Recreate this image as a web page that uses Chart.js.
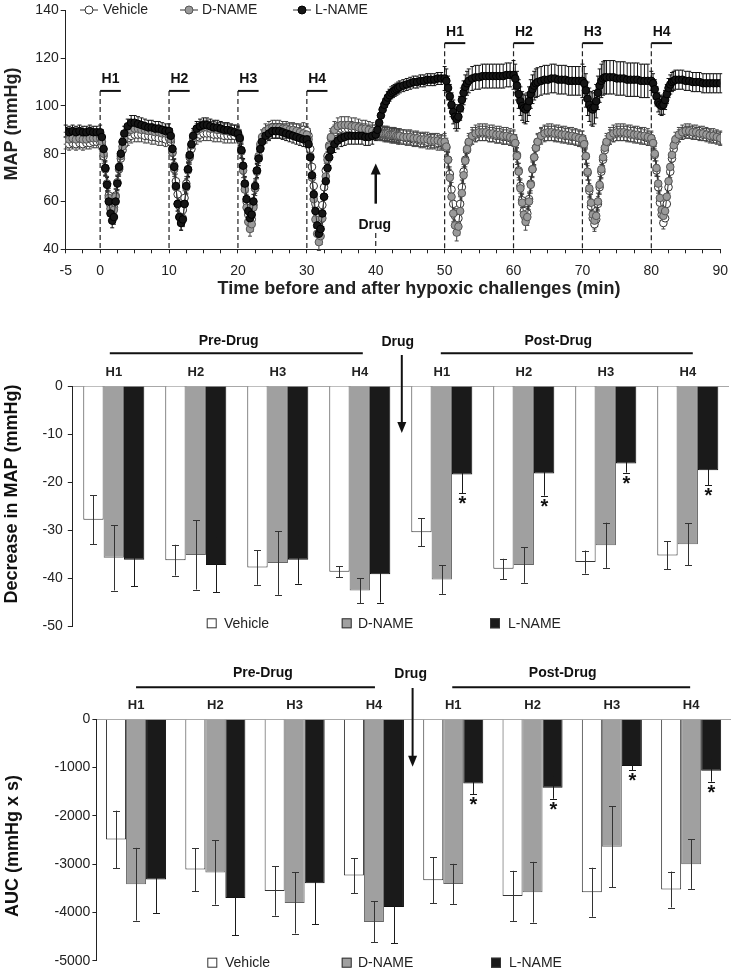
<!DOCTYPE html>
<html>
<head>
<meta charset="utf-8">
<script src="https://cdn.jsdelivr.net/npm/chart.js@4.4.1/dist/chart.umd.min.js"></script>
<style>
  body { margin: 0; background: #fff; width: 737px; height: 973px; position: relative; overflow: hidden; }
  canvas { position: absolute; left: 0; }
</style>
</head>
<body>
<canvas id="mapTrace" width="737" height="300" style="top:0"></canvas>
<canvas id="mapBars" width="737" height="340" style="top:300px"></canvas>
<canvas id="aucBars" width="737" height="333" style="top:640px"></canvas>
<script>
// ---------- top panel: MAP time course ----------
const preTimes = [-5, -4.5, -4, -3.5, -3, -2.5, -2, -1.5, -1, -0.5];
const segmentStarts = [0, 10, 20, 30, 40, 50, 60, 70, 80];
const segmentOffsets = [0, 0.25, 0.5, 0.75, 1, 1.25, 1.5, 1.75, 2, 2.25, 2.5, 2.75, 3, 3.25, 3.5,
                        4, 4.5, 5, 5.5, 6, 6.5, 7, 7.5, 8, 8.5, 9, 9.5];
const endTime = 90;
const traceTimes = preTimes.concat(...segmentStarts.map(s => segmentOffsets.map(o => s + o)), [endTime]);

const vehicleTrace = [
  84.5, 84, 84.5, 84, 84.5, 84, 84.5, 84.5, 85, 85,
  85, 83.5, 79, 73.5, 67.5, 62.5, 58.5, 56, 57.5, 62.5, 68, 73.5, 78, 81.5, 84,
  86.5, 87.5, 88, 88, 88, 87.5, 87.5, 87, 87, 86.5, 86.5, 86,
  86.5, 85, 80.5, 75, 68.5, 63, 58, 55, 56.5, 61.5, 67.5, 73.5, 78.5, 82, 85,
  87, 88, 88.5, 88.5, 88.5, 88, 88, 88, 87.5, 87.5, 87.5, 87.5,
  88, 86, 81, 74.5, 67, 60, 54.5, 51, 52.5, 58.5, 65.5, 72.5, 78, 82.5, 85.5,
  88, 89, 89.5, 89.5, 89.5, 89.5, 89.5, 89.5, 89.5, 89.5, 89.5, 90,
  89.5, 87.5, 82, 74.5, 66.5, 59, 53.5, 50.5, 52.5, 58.5, 66, 73, 79, 83.5, 86.5,
  89, 90, 90.5, 90.5, 90.5, 90.5, 90, 90, 89.5, 89.5, 89, 89,
  89, 89, 88.5, 88.5, 88.5, 88, 88, 88, 88, 87.5, 87.5, 87.5, 87.5, 87, 87,
  87, 86.5, 86.5, 86, 86, 85.5, 85.5, 85, 85, 85, 84.5, 84.5,
  84.5, 82.5, 77.5, 71.5, 65, 59, 54, 51, 53, 59, 66, 72.5, 77.5, 81.5, 84.5,
  87, 88, 88.5, 88.5, 88.5, 88, 88, 87.5, 87.5, 87, 87, 86.5,
  86.5, 84.5, 79.5, 73, 66.5, 60.5, 56, 53, 55, 61, 67.5, 73.5, 78.5, 82.5, 85,
  87.5, 88.5, 88.5, 88.5, 88.5, 88, 88, 87.5, 87.5, 87, 87, 86.5,
  86.5, 84.5, 79, 72, 64.5, 58, 53, 50.5, 52.5, 59, 66, 72.5, 77.5, 81.5, 84.5,
  87, 88, 88.5, 88.5, 88.5, 88.5, 88, 88, 87.5, 87.5, 87, 86.5,
  86.5, 84.5, 79.5, 73, 66, 59.5, 54.5, 51, 53, 59, 66, 72.5, 78, 82, 85,
  87.5, 88.5, 89, 89, 89, 88.5, 88.5, 88, 88, 87.5, 87, 87,
  86.5
];
const dnameTrace = [
  86.5, 86, 86.5, 86, 86.5, 86, 86, 86.5, 86.5, 86.5,
  86.5, 85, 80, 74, 67.5, 61.5, 57, 55, 56.5, 62, 68, 74, 79, 83, 86,
  89, 90, 90.5, 90.5, 90, 90, 89.5, 89.5, 89, 89, 88.5, 88.5,
  88, 86, 80.5, 73.5, 66, 59, 53.5, 51, 53, 59, 66, 73, 79, 83.5, 86.5,
  89.5, 90.5, 91, 91, 90.5, 90.5, 90, 90, 89.5, 89.5, 89, 89,
  89, 87, 81, 73, 65, 57.5, 51.5, 48.5, 50.5, 57.5, 65.5, 73, 79, 84, 87,
  89.5, 90.5, 91, 91, 91, 90.5, 90.5, 90, 90, 89.5, 89, 88.5,
  88, 86, 79, 70, 61, 52.5, 46.5, 43, 45.5, 53, 62, 70.5, 77.5, 83, 87,
  90, 91.5, 92, 92, 92, 91.5, 91.5, 91, 90.5, 90.5, 90, 89.5,
  89, 89, 89, 89, 88.5, 88.5, 88.5, 88.5, 88, 88, 88, 88, 87.5, 87.5, 87.5,
  87, 87, 87, 86.5, 86.5, 86, 86, 86, 85.5, 85.5, 85.5, 85,
  85, 83, 77.5, 70, 62, 55, 50, 47, 49.5, 56, 63.5, 71, 77, 82, 85,
  87.5, 88.5, 89, 89, 89, 88.5, 88.5, 88, 88, 87.5, 87.5, 87,
  86.5, 84.5, 79, 72.5, 65.5, 59.5, 54.5, 51.5, 53.5, 60, 67, 73.5, 78.5, 82.5, 85,
  87.5, 88.5, 89, 89, 88.5, 88.5, 88, 88, 87.5, 87.5, 87, 86.5,
  86, 84, 79, 72.5, 65.5, 59.5, 54.5, 52, 54, 60, 67, 73.5, 78.5, 82.5, 85,
  87.5, 88.5, 89, 89, 89, 88.5, 88.5, 88, 88, 87.5, 87.5, 87,
  86.5, 84.5, 80, 74, 67.5, 61.5, 56.5, 54, 56, 62, 68.5, 74.5, 79.5, 83.5, 86,
  88, 89, 89.5, 89.5, 89, 89, 88.5, 88.5, 88, 87.5, 87.5, 87,
  86.5
];
const lnameTrace = [
  89.5, 89, 89.5, 89, 89.5, 89, 89, 89.5, 89, 89,
  89, 87, 82, 74, 67, 60, 55, 52, 53.5, 60, 67.5, 74.5, 80, 85, 88.5,
  91.5, 93, 93, 92.5, 92, 91.5, 91, 91, 90.5, 90.5, 90, 89.5,
  89.5, 87.5, 82, 74.5, 66.5, 59, 53.5, 51, 52.5, 59, 66.5, 73.5, 79.5, 84, 87.5,
  90.5, 91.5, 92, 92, 91.5, 91, 91, 90.5, 90, 90, 89.5, 89,
  88.5, 86.5, 81.5, 75, 67.5, 61, 56, 53, 54.5, 60, 66.5, 73, 78, 82, 85,
  87.5, 88.5, 89.5, 89.5, 89.5, 89, 88.5, 88, 87.5, 87, 86.5, 86,
  86, 84, 78.5, 71, 63, 56, 50, 46.5, 48.5, 55, 62, 68.5, 74, 78.5, 81.5,
  84, 85.5, 86.5, 87, 87.5, 87.5, 87.5, 87.5, 87.5, 87, 87, 87.5,
  88, 90, 93, 96, 98.5, 100.5, 102, 103.5, 104.5, 105.5, 106, 106.5, 107, 107.5, 108,
  108.5, 109, 109.5, 110, 110, 110.5, 110.5, 111, 111, 111, 111.5, 111.5,
  111.5, 110.5, 107.5, 104, 100.5, 97.5, 95.5, 94.5, 95.5, 99, 102.5, 105.5, 108, 109.5, 110.5,
  111.5, 112, 112, 112.5, 112.5, 112.5, 112.5, 112.5, 112.5, 112.5, 113, 113,
  113, 111.5, 108.5, 105, 102, 100, 99, 98.5, 99.5, 102, 105, 107, 108.5, 109.5, 110,
  110.5, 111, 111, 111.5, 111.5, 111, 111, 111, 110.5, 110.5, 110.5, 110.5,
  110.5, 109.5, 106.5, 103, 100.5, 99, 98.5, 99.5, 102, 105.5, 108.5, 110.5, 111.5, 112, 112,
  112, 112, 111.5, 111.5, 111.5, 111, 111, 111, 111, 110.5, 110.5, 110.5,
  110.5, 109.5, 107, 104, 101.5, 100.5, 100, 100.5, 102.5, 105, 107.5, 109, 110, 110.5, 111,
  111, 111, 110.5, 110.5, 110, 110, 110, 109.5, 109.5, 109.5, 109.5, 109.5,
  109.5
];
// SEM per stretch: baseline, then the 10-min blocks starting at 0..80
const vehicleSem = [2.5, 3, 3, 3, 3, 3, 3, 3, 3, 2.5];
const dnameSem = [2.5, 3, 3, 3, 3.5, 3, 3.5, 3.5, 3.5, 3];
const lnameSem = [2.5, 3, 3, 3, 3.5, 2.5, 5, 6, 7, 4];

const hypoxiaStarts = [0, 10, 20, 30, 50, 60, 70, 80];
const hypoxiaNames = ['H1', 'H2', 'H3', 'H4', 'H1', 'H2', 'H3', 'H4'];
const hypoxiaMinutes = 3;
const drugTime = 40;

// ---------- bar panels ----------
const groupNames = ['H1', 'H2', 'H3', 'H4', 'H1', 'H2', 'H3', 'H4'];
const vehicleDrop = [-27.8, -36.2, -37.7, -38.6, -30.4, -38.0, -36.6, -35.2];
const vehicleDropErr = [5.1, 3.2, 3.6, 1.1, 2.9, 2.1, 2.4, 2.9];
const dnameDrop = [-35.7, -35.1, -36.8, -42.5, -40.2, -37.2, -33.1, -32.9];
const dnameDropErr = [6.8, 7.2, 6.6, 2.6, 3.0, 3.7, 4.7, 4.4];
const lnameDrop = [-36.1, -37.2, -36.1, -39.1, -18.4, -18.2, -16.1, -17.5];
const lnameDropErr = [5.5, 5.7, 5.0, 5.9, 3.9, 4.6, 1.9, 3.1];

const vehicleAuc = [-2490, -3112, -3555, -3237, -3333, -3658, -3582, -3527];
const vehicleAucErr = [598, 446, 512, 363, 477, 519, 508, 373];
const dnameAuc = [-3416, -3174, -3804, -4198, -3409, -3582, -2642, -3001];
const dnameAucErr = [753, 664, 633, 425, 415, 629, 837, 512];
const lnameAuc = [-3320, -3700, -3396, -3887, -1328, -1418, -968, -1065];
const lnameAucErr = [691, 774, 850, 747, 228, 228, 83, 228];
const lnameSignificant = [false, false, false, false, true, true, true, true];

const FONT = '"Liberation Sans", Arial, Helvetica, sans-serif';
Chart.defaults.font.family = FONT;
Chart.defaults.color = '#222';

function segmentOf(i) {
    if (i < preTimes.length) return 0;
    if (i >= traceTimes.length - 1) return segmentStarts.length;
    return 1 + Math.floor((i - preTimes.length) / segmentOffsets.length);
}

function toPoints(values) {
    return traceTimes.map((t, i) => ({ x: t, y: values[i] }));
}

const traceDecor = {
    id: 'traceDecor',
    beforeDatasetsDraw(chart) {
        const { ctx, chartArea, scales: { x, y } } = chart;
        ctx.save();
        // dashed onset lines
        ctx.strokeStyle = '#222';
        ctx.lineWidth = 1.2;
        ctx.setLineDash([5, 3]);
        hypoxiaStarts.forEach((t, i) => {
            const px = x.getPixelForValue(t);
            const top = y.getPixelForValue(i < 4 ? 106.3 : 126.3);
            ctx.beginPath();
            ctx.moveTo(px, top);
            ctx.lineTo(px, chartArea.bottom);
            ctx.stroke();
        });
        const dx = x.getPixelForValue(drugTime);
        ctx.beginPath();
        ctx.moveTo(dx, y.getPixelForValue(46.8));
        ctx.lineTo(dx, chartArea.bottom);
        ctx.stroke();
        ctx.setLineDash([]);

        // SEM bars
        chart.data.datasets.forEach((ds, di) => {
            const meta = chart.getDatasetMeta(di);
            ctx.strokeStyle = ds.errorColor;
            ctx.lineWidth = 1;
            meta.data.forEach((pt, i) => {
                const v = ds.data[i].y;
                const e = ds.sem[segmentOf(i)];
                const y1 = y.getPixelForValue(v + e);
                const y2 = y.getPixelForValue(v - e);
                ctx.beginPath();
                ctx.moveTo(pt.x, y1); ctx.lineTo(pt.x, y2);
                ctx.moveTo(pt.x - 2, y1); ctx.lineTo(pt.x + 2, y1);
                ctx.moveTo(pt.x - 2, y2); ctx.lineTo(pt.x + 2, y2);
                ctx.stroke();
            });
        });
        ctx.restore();
    },
    afterDatasetsDraw(chart) {
        const { ctx, scales: { x, y } } = chart;
        ctx.save();
        ctx.fillStyle = '#111';
        ctx.strokeStyle = '#111';
        ctx.textAlign = 'center';
        ctx.textBaseline = 'middle';
        ctx.font = 'bold 14px ' + FONT;
        hypoxiaStarts.forEach((t, i) => {
            const x1 = x.getPixelForValue(t);
            const x2 = x.getPixelForValue(t + hypoxiaMinutes);
            const by = y.getPixelForValue(i < 4 ? 106.3 : 126.3);
            ctx.lineWidth = 2;
            ctx.beginPath();
            ctx.moveTo(x1, by); ctx.lineTo(x2, by);
            ctx.stroke();
            ctx.fillText(hypoxiaNames[i], (x1 + x2) / 2, y.getPixelForValue(i < 4 ? 111.3 : 130.8));
        });

        // drug arrow
        const dx = x.getPixelForValue(drugTime);
        const aTop = y.getPixelForValue(75.9);
        const aBot = y.getPixelForValue(59.1);
        ctx.lineWidth = 2.5;
        ctx.beginPath();
        ctx.moveTo(dx, aBot); ctx.lineTo(dx, aTop + 6);
        ctx.stroke();
        ctx.beginPath();
        ctx.moveTo(dx, aTop); ctx.lineTo(dx - 5, aTop + 11); ctx.lineTo(dx + 5, aTop + 11);
        ctx.closePath(); ctx.fill();
        ctx.fillText('Drug', dx - 1, y.getPixelForValue(50.1));

        // legend
        const items = [
            { cx: 89, tx: 103, label: 'Vehicle', fill: '#fff', stroke: '#333' },
            { cx: 189, tx: 202, label: 'D-NAME', fill: '#9a9a9a', stroke: '#555' },
            { cx: 302, tx: 315, label: 'L-NAME', fill: '#151515', stroke: '#000' }
        ];
        ctx.font = '14px ' + FONT;
        ctx.textAlign = 'left';
        items.forEach(it => {
            ctx.strokeStyle = '#333';
            ctx.lineWidth = 1;
            ctx.beginPath();
            ctx.moveTo(it.cx - 9, 10); ctx.lineTo(it.cx + 9, 10);
            ctx.stroke();
            ctx.beginPath();
            ctx.arc(it.cx, 10, 4, 0, Math.PI * 2);
            ctx.fillStyle = it.fill; ctx.fill();
            ctx.strokeStyle = it.stroke; ctx.stroke();
            ctx.fillStyle = '#222';
            ctx.fillText(it.label, it.tx, 10);
        });

        // axis titles
        ctx.font = 'bold 18px ' + FONT;
        ctx.textAlign = 'center';
        ctx.fillText('Time before and after hypoxic challenges (min)', 419, 289);
        ctx.translate(12, 124);
        ctx.rotate(-Math.PI / 2);
        ctx.fillText('MAP (mmHg)', 0, 0);
        ctx.restore();
    }
};

function traceSet(label, values, sem, fill, stroke, errColor, order) {
    return {
        label: label,
        data: toPoints(values),
        sem: sem,
        errorColor: errColor,
        showLine: true,
        borderColor: '#333',
        borderWidth: 1,
        pointRadius: 3.8,
        pointBackgroundColor: fill,
        pointBorderColor: stroke,
        pointBorderWidth: 1,
        order: order
    };
}

new Chart(document.getElementById('mapTrace'), {
    type: 'scatter',
    data: {
        datasets: [
            traceSet('Vehicle', vehicleTrace, vehicleSem, '#fff', '#333', '#444', 3),
            traceSet('D-NAME', dnameTrace, dnameSem, '#9a9a9a', '#555', '#444', 2),
            traceSet('L-NAME', lnameTrace, lnameSem, '#151515', '#000', '#111', 1)
        ]
    },
    options: {
        responsive: false,
        animation: false,
        layout: { padding: { top: 6, right: 11.3, left: 0, bottom: 0 } },
        plugins: { legend: { display: false }, tooltip: { enabled: false } },
        scales: {
            x: {
                type: 'linear', min: -5, max: 90,
                afterFit(s) { s.height = 50.7; },
                ticks: {
                    stepSize: 2.5, autoSkip: false, maxRotation: 0, padding: 9,
                    font: { size: 14 },
                    callback: v => (v === -5 || v % 10 === 0) ? String(v) : ''
                },
                grid: { drawOnChartArea: false, tickLength: 4, color: '#222' },
                border: { color: '#222' }
            },
            y: {
                min: 40, max: 140,
                afterFit(s) { s.width = 65.7; },
                ticks: { stepSize: 20, padding: 2, font: { size: 14 } },
                grid: { drawOnChartArea: false, tickLength: 5, color: '#222' },
                border: { color: '#222' }
            }
        }
    },
    plugins: [traceDecor]
});

// ---------- bar charts ----------
function barDecor(cfg) {
    return {
        id: 'barDecor',
        afterDatasetsDraw(chart) {
            const { ctx, chartArea, scales: { x, y } } = chart;
            ctx.save();
            // error bars and stars
            chart.data.datasets.forEach((ds, di) => {
                const meta = chart.getDatasetMeta(di);
                ctx.strokeStyle = ds.errorColor;
                ctx.lineWidth = 1;
                meta.data.forEach((bar, i) => {
                    const v = ds.data[i];
                    const e = ds.errorBars[i];
                    const cx = Math.round(bar.x) + 0.5;
                    const y1 = y.getPixelForValue(v + e);
                    const y2 = y.getPixelForValue(v - e);
                    ctx.beginPath();
                    ctx.moveTo(cx, y1); ctx.lineTo(cx, y2);
                    ctx.moveTo(cx - 3.5, Math.round(y1) + 0.5); ctx.lineTo(cx + 3.5, Math.round(y1) + 0.5);
                    ctx.moveTo(cx - 3.5, Math.round(y2) + 0.5); ctx.lineTo(cx + 3.5, Math.round(y2) + 0.5);
                    ctx.stroke();
                    if (ds.stars && ds.stars[i]) {
                        ctx.fillStyle = '#111';
                        ctx.font = 'bold 20px ' + FONT;
                        ctx.textAlign = 'center';
                        ctx.textBaseline = 'top';
                        ctx.fillText('*', cx, y2 + 1.5);
                    }
                });
            });

            const c = i => x.getPixelForValue(i);
            const top = chartArea.top - cfg.areaTop;
            ctx.fillStyle = '#111';
            ctx.strokeStyle = '#111';
            ctx.textBaseline = 'middle';
            ctx.textAlign = 'center';
            ctx.font = 'bold 14px ' + FONT;
            // Pre-Drug / Post-Drug brackets
            ctx.lineWidth = 2;
            ctx.beginPath();
            ctx.moveTo(c(0) + cfg.preLine[0], top + cfg.lineY); ctx.lineTo(c(3) + cfg.preLine[1], top + cfg.lineY);
            ctx.moveTo(c(4) + cfg.postLine[0], top + cfg.lineY); ctx.lineTo(c(7) + cfg.postLine[1], top + cfg.lineY);
            ctx.stroke();
            ctx.fillText('Pre-Drug', c(0) + (c(1) - c(0)) * cfg.preText, top + cfg.textY);
            ctx.fillText('Post-Drug', c(0) + (c(1) - c(0)) * cfg.postText, top + cfg.textY);

            // drug arrow between H4 and H1
            const dx = (c(3) + c(4)) / 2;
            ctx.fillText('Drug', dx - 3, top + cfg.drugTextY);
            ctx.beginPath();
            ctx.moveTo(dx + cfg.arrowShift, top + cfg.arrowTop);
            ctx.lineTo(dx + cfg.arrowShift, top + cfg.arrowBottom - 8);
            ctx.stroke();
            ctx.beginPath();
            ctx.moveTo(dx + cfg.arrowShift, top + cfg.arrowBottom);
            ctx.lineTo(dx + cfg.arrowShift - 4.5, top + cfg.arrowBottom - 11);
            ctx.lineTo(dx + cfg.arrowShift + 4.5, top + cfg.arrowBottom - 11);
            ctx.closePath();
            ctx.fill();

            // legend
            ctx.font = '14px ' + FONT;
            ctx.textAlign = 'left';
            ctx.lineWidth = 1;
            chart.data.datasets.forEach((ds, i) => {
                const bx = cfg.legendBoxX[i];
                const ly = top + cfg.legendY;
                ctx.fillStyle = ds.backgroundColor;
                ctx.fillRect(bx, ly - 5, 10, 10);
                ctx.strokeStyle = '#333';
                ctx.strokeRect(bx + 0.5, ly - 4.5, 9, 9);
                ctx.fillStyle = '#222';
                ctx.fillText(ds.label, cfg.legendTextX[i], ly + 0.5);
            });

            // y title
            ctx.font = 'bold 18px ' + FONT;
            ctx.textAlign = 'center';
            ctx.fillStyle = '#111';
            ctx.translate(cfg.titleX, top + cfg.titleY);
            ctx.rotate(-Math.PI / 2);
            ctx.fillText(cfg.title, 0, 0);
            ctx.restore();
        }
    };
}

function barSet(label, values, errors, fill, border, errColor, stars) {
    return {
        label: label,
        data: values,
        errorBars: errors,
        errorColor: errColor,
        stars: stars,
        backgroundColor: fill,
        borderColor: border,
        borderWidth: 1
    };
}

function barOptions(o) {
    return {
        responsive: false,
        animation: false,
        datasets: { bar: { categoryPercentage: o.catPct, barPercentage: 1 } },
        layout: { padding: { top: o.padTop, right: o.padRight, left: 0, bottom: o.padBottom } },
        plugins: { legend: { display: false }, tooltip: { enabled: false } },
        scales: {
            x: {
                position: 'top',
                afterFit(s) { s.height = 30; },
                grid: { display: false, drawTicks: false },
                border: { color: '#a8a8a8', width: 1 },
                ticks: { padding: o.labelPad, font: { size: 13, weight: 'bold' }, color: '#222' }
            },
            y: {
                min: o.min, max: 0,
                afterFit(s) { s.width = o.axisWidth; },
                ticks: { stepSize: o.step, padding: o.tickPad, font: { size: 14 }, callback: v => String(v) },
                grid: { drawOnChartArea: false, tickLength: o.tickLen, color: '#222' },
                border: { color: '#222' }
            }
        }
    };
}

new Chart(document.getElementById('mapBars'), {
    type: 'bar',
    data: {
        labels: groupNames,
        datasets: [
            barSet('Vehicle', vehicleDrop, vehicleDropErr, '#ffffff', '#333', '#333', null),
            barSet('D-NAME', dnameDrop, dnameDropErr, '#a0a0a0', '#666', '#333', null),
            barSet('L-NAME', lnameDrop, lnameDropErr, '#1a1a1a', '#111', '#1a1a1a', lnameSignificant)
        ]
    },
    options: barOptions({ catPct: 0.744, padTop: 56, padRight: 8.2, padBottom: 13.3, labelPad: 5.5,
                          min: -50, step: 10, axisWidth: 72.8, tickPad: 5, tickLen: 5 }),
    plugins: [barDecor({
        areaTop: 86, textY: 40.7, lineY: 53.3, preText: 1.4, postText: 5.42,
        preLine: [-4, 3], postLine: [-1, 5],
        drugTextY: 41.7, arrowTop: 55, arrowBottom: 133, arrowShift: 1,
        legendY: 323.3, legendBoxX: [206.7, 341.7, 490], legendTextX: [224, 358, 508],
        title: 'Decrease in MAP (mmHg)', titleX: 12, titleY: 194
    })]
});

new Chart(document.getElementById('aucBars'), {
    type: 'bar',
    data: {
        labels: groupNames,
        datasets: [
            barSet('Vehicle', vehicleAuc, vehicleAucErr, '#ffffff', '#333', '#333', null),
            barSet('D-NAME', dnameAuc, dnameAucErr, '#a0a0a0', '#666', '#333', null),
            barSet('L-NAME', lnameAuc, lnameAucErr, '#1a1a1a', '#111', '#1a1a1a', lnameSignificant)
        ]
    },
    options: barOptions({ catPct: 0.757, padTop: 49.3, padRight: 6.2, padBottom: 12.3, labelPad: 6,
                          min: -5000, step: 1000, axisWidth: 96.4, tickPad: 2, tickLen: 4 }),
    plugins: [barDecor({
        areaTop: 79.3, textY: 33.3, lineY: 47.3, preText: 1.6, postText: 5.38,
        preLine: [0, 1], postLine: [-1, -1],
        drugTextY: 34.3, arrowTop: 48, arrowBottom: 126.7, arrowShift: -1,
        legendY: 322.7, legendBoxX: [207.3, 341.7, 491], legendTextX: [225, 358, 509],
        title: 'AUC (mmHg x s)', titleX: 13, titleY: 206
    })]
});
</script>
</body>
</html>
